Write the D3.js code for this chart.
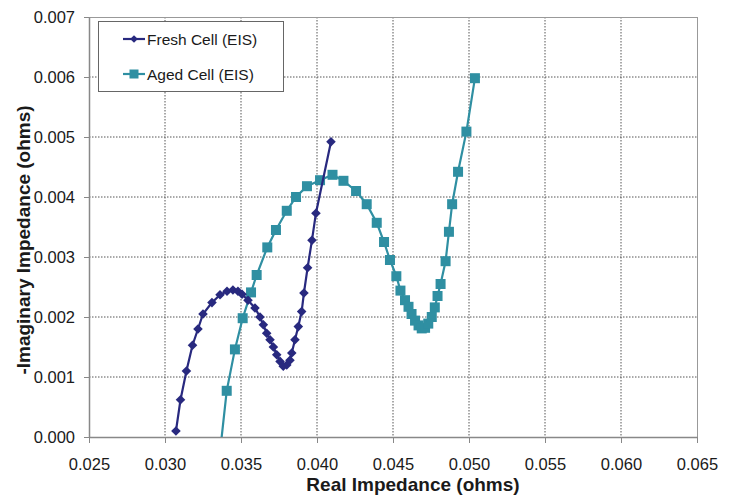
<!DOCTYPE html>
<html>
<head>
<meta charset="utf-8">
<script src="https://cdn.jsdelivr.net/npm/d3@7"></script>
<style>
  html, body { margin: 0; padding: 0; background: #fff; }
  svg { display: block; font-family: "Liberation Sans", Arial, sans-serif; }
</style>
</head>
<body>
<svg id="chart" width="736" height="496"></svg>
<script>
// ---- Data ----
const freshX = [0.03072, 0.03102, 0.03141, 0.03181, 0.03217, 0.03250, 0.03309, 0.03362, 0.03408, 0.03447,
  0.03480, 0.03507, 0.03546, 0.03592, 0.03625, 0.03647, 0.03669, 0.03691, 0.03713, 0.03735,
  0.03757, 0.03778, 0.03801, 0.03822, 0.03834, 0.03855, 0.03877, 0.03899, 0.03914, 0.03938,
  0.03967, 0.03993, 0.04092];
const freshY = [0.00010, 0.00062, 0.00110, 0.00153, 0.00180, 0.00205, 0.00224, 0.00237, 0.00243, 0.00245,
  0.00243, 0.00238, 0.00228, 0.00215, 0.00200, 0.00187, 0.00173, 0.00162, 0.00150, 0.00137,
  0.00126, 0.00118, 0.00120, 0.00128, 0.00140, 0.00162, 0.00184, 0.00209, 0.00240, 0.00282,
  0.00328, 0.00373, 0.00492];

const agedX = [0.03360, 0.03406, 0.03460, 0.03511, 0.03566, 0.03603, 0.03673, 0.03730, 0.03801, 0.03862,
  0.03934, 0.04020, 0.04102, 0.04174, 0.04257, 0.04327, 0.04393, 0.04441, 0.04480, 0.04522,
  0.04549, 0.04579, 0.04602, 0.04622, 0.04645, 0.04668, 0.04689, 0.04711, 0.04732, 0.04755,
  0.04775, 0.04793, 0.04813, 0.04846, 0.04868, 0.04889, 0.04928, 0.04983, 0.05039];
const agedY = [-0.00030, 0.00077, 0.00146, 0.00198, 0.00241, 0.00270, 0.00316, 0.00345, 0.00377, 0.00400,
  0.00418, 0.00428, 0.00437, 0.00427, 0.00410, 0.00388, 0.00357, 0.00325, 0.00295, 0.00268,
  0.00244, 0.00228, 0.00217, 0.00205, 0.00194, 0.00186, 0.00181, 0.00182, 0.00189, 0.00200,
  0.00216, 0.00235, 0.00255, 0.00293, 0.00342, 0.00388, 0.00442, 0.00509, 0.00598];

const xTicks = [0.025, 0.030, 0.035, 0.040, 0.045, 0.050, 0.055, 0.060, 0.065];
const yTicks = [0.000, 0.001, 0.002, 0.003, 0.004, 0.005, 0.006, 0.007];
const seriesNames = ["Fresh Cell (EIS)", "Aged Cell (EIS)"];
const seriesColors = ["#28297f", "#2f8fa2"];
const xTitle = "Real Impedance (ohms)";
const yTitle = "-Imaginary Impedance (ohms)";

// ---- Layout ----
const L = 89, R = 697, T = 17, B = 437;
const svg = d3.select("#chart");
const x = d3.scaleLinear().domain([0.025, 0.065]).range([L, R]);
const y = d3.scaleLinear().domain([0, 0.007]).range([B, T]);

svg.append("defs").append("clipPath").attr("id", "clip")
  .append("rect").attr("x", L).attr("y", T - 8).attr("width", R - L + 8).attr("height", B - T + 8);
svg.append("defs").append("clipPath").attr("id", "clipLine")
  .append("rect").attr("x", L).attr("y", T).attr("width", R - L).attr("height", B - T);

// gridlines
const grid = svg.append("g");
grid.selectAll("line.v").data(xTicks.slice(1, -1)).join("line")
  .attr("x1", d => x(d)).attr("x2", d => x(d)).attr("y1", T).attr("y2", B)
  .attr("stroke", "#555").attr("stroke-width", 1).attr("stroke-dasharray", "1.5,1.5");
grid.selectAll("line.h").data(yTicks.slice(1, -1)).join("line")
  .attr("x1", L).attr("x2", R).attr("y1", d => y(d)).attr("y2", d => y(d))
  .attr("stroke", "#555").attr("stroke-width", 1).attr("stroke-dasharray", "1.5,1.5");

// plot border (top/right)
svg.append("line").attr("x1", L).attr("x2", R).attr("y1", T + 0.5).attr("y2", T + 0.5).attr("stroke", "#999");
svg.append("line").attr("x1", R + 0.5).attr("x2", R + 0.5).attr("y1", T).attr("y2", B).attr("stroke", "#999");

// axes
const xAxis = d3.axisBottom(x).tickValues(xTicks).tickFormat(d3.format(".3f")).tickSize(6).tickSizeOuter(0);
const yAxis = d3.axisLeft(y).tickValues(yTicks).tickFormat(d3.format(".3f")).tickSize(5).tickSizeOuter(0);
const gx = svg.append("g").attr("transform", `translate(0,${B})`).call(xAxis);
const gy = svg.append("g").attr("transform", `translate(${L},0)`).call(yAxis);
[gx, gy].forEach(g => {
  g.select(".domain").attr("stroke", "#888").attr("stroke-width", 1.5);
  g.selectAll(".tick line").attr("stroke", "#888");
  g.selectAll(".tick text").attr("fill", "#1a1a1a").attr("font-size", 16.5)
    .attr("font-family", "'Liberation Sans', Arial, sans-serif");
});
gx.selectAll(".tick text").attr("dy", "0").attr("y", 33);
gy.selectAll(".tick text").attr("x", -14).attr("dy", "0.36em");

// axis titles
svg.append("text").attr("x", 413).attr("y", 491).attr("text-anchor", "middle")
  .attr("font-size", 19).attr("font-weight", "bold").attr("fill", "#1a1a1a").text(xTitle);
svg.append("text").attr("transform", `translate(30,240) rotate(-90)`)
  .attr("text-anchor", "middle").attr("font-size", 19).attr("font-weight", "bold")
  .attr("fill", "#1a1a1a").text(yTitle);

// series
const freshData = freshX.map((v, i) => [v, freshY[i]]);
const agedData = agedX.map((v, i) => [v, agedY[i]]);
const line = d3.line().x(d => x(d[0])).y(d => y(d[1]));
const plot = svg.append("g").attr("clip-path", "url(#clip)");

function drawSeries(data, color, kind) {
  plot.append("path").datum(data).attr("d", line).attr("fill", "none")
    .attr("stroke", color).attr("stroke-width", 2.2).attr("clip-path", "url(#clipLine)");
  const pts = data.filter(d => d[1] >= 0);
  if (kind === "square") {
    plot.selectAll(null).data(pts).join("rect")
      .attr("x", d => x(d[0]) - 5).attr("y", d => y(d[1]) - 5)
      .attr("width", 10).attr("height", 10).attr("fill", color);
  } else {
    plot.selectAll(null).data(pts).join("path")
      .attr("transform", d => `translate(${x(d[0])},${y(d[1])}) rotate(45)`)
      .attr("d", d3.symbol().type(d3.symbolSquare).size(46)).attr("fill", color);
  }
}
drawSeries(agedData, seriesColors[1], "square");
drawSeries(freshData, seriesColors[0], "diamond");

// legend
const lg = svg.append("g");
lg.append("rect").attr("x", 98.5).attr("y", 21.5).attr("width", 185).attr("height", 70)
  .attr("fill", "#fff").attr("stroke", "#666").attr("stroke-width", 1);
const legY = [39, 74];
seriesNames.forEach((name, i) => {
  lg.append("line").attr("x1", 123).attr("x2", 145).attr("y1", legY[i]).attr("y2", legY[i])
    .attr("stroke", seriesColors[i]).attr("stroke-width", 2.2);
  if (i === 0) {
    lg.append("path").attr("transform", `translate(134,${legY[i]}) rotate(45)`)
      .attr("d", d3.symbol().type(d3.symbolSquare).size(30)).attr("fill", seriesColors[i]);
  } else {
    lg.append("rect").attr("x", 134 - 4.5).attr("y", legY[i] - 4.5).attr("width", 9).attr("height", 9)
      .attr("fill", seriesColors[i]);
  }
  lg.append("text").attr("x", 147).attr("y", legY[i]).attr("dy", "0.36em")
    .attr("font-size", 15.5).attr("fill", "#1a1a1a").text(name);
});
</script>
</body>
</html>
